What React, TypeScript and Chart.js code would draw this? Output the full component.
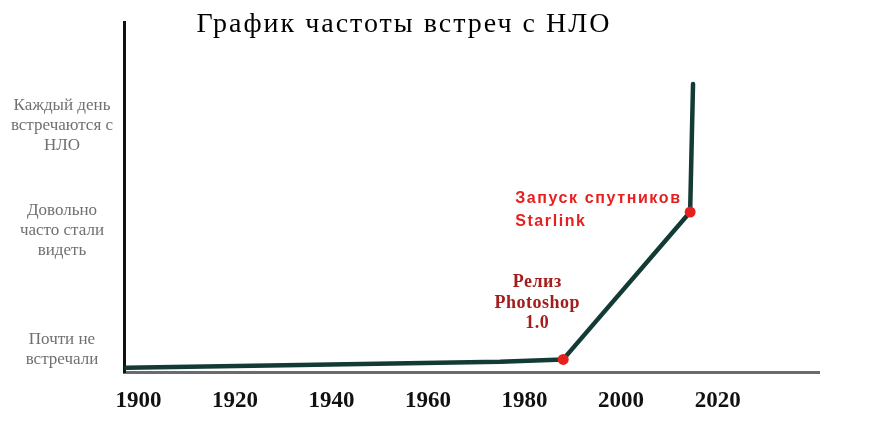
import React, { useEffect, useRef } from 'react';
import { Chart, registerables } from 'chart.js';

Chart.register(...registerables);

const TITLE = 'График частоты встреч с НЛО';
const YEARS = [1897.5, 1933.5, 1974.9, 1988, 2014.3, 2014.9];
const FREQUENCY = [1.2, 2.0, 2.9, 3.6, 45.7, 82.3];
const X_TICKS = [1900, 1920, 1940, 1960, 1980, 2000, 2020];
const Y_TICK_VALUES = [6.3, 40.3, 70.3];
const Y_TICK_LABELS = [
  ['Почти не', 'встречали'],
  ['Довольно', 'часто стали', 'видеть'],
  ['Каждый день', 'встречаются с', 'НЛО'],
];
const EVENT_INDEX = [3, 4];
const EVENT_LABELS = [
  ['Релиз', 'Photoshop', '1.0'],
  ['Запуск спутников', 'Starlink'],
];

const EVENT_STYLES = [
  { font: 'bold 18px "Liberation Serif"', color: '#a31d1d', align: 'center', dx: -26, dy: -77, lh: 20.5, spacing: '0.5px' },
  { font: 'bold 16px "Liberation Sans"', color: '#e5201e', align: 'left', dx: -175, dy: -13, lh: 23, spacing: '1.6px' },
];

const titlePlugin = {
  id: 'customTitle',
  afterDraw(chart: any) {
    const ctx = chart.ctx;
    ctx.save();
    ctx.font = '28px "Liberation Serif"';
    (ctx as any).letterSpacing = '2px';
    ctx.fillStyle = '#000';
    ctx.textAlign = 'center';
    ctx.textBaseline = 'alphabetic';
    ctx.fillText(TITLE, chart.chartArea.left + 280, 32);
    ctx.restore();
  },
};

const eventPlugin = {
  id: 'eventLabels',
  afterDatasetsDraw(chart: any) {
    const meta = chart.getDatasetMeta(0);
    const ctx = chart.ctx;
    ctx.save();
    EVENT_INDEX.forEach((idx, i) => {
      const pt = meta.data[idx];
      const s = EVENT_STYLES[i];
      ctx.font = s.font;
      (ctx as any).letterSpacing = s.spacing;
      ctx.fillStyle = s.color;
      ctx.textAlign = s.align;
      ctx.textBaseline = 'middle';
      EVENT_LABELS[i].forEach((line, j) => {
        ctx.fillText(line, pt.x + s.dx, pt.y + s.dy + j * s.lh);
      });
    });
    ctx.restore();
  },
};

export default function App() {
  const ref = useRef<HTMLCanvasElement>(null);
  useEffect(() => {
    document.body.style.margin = '0';
    const chart = new Chart(ref.current!, {
      type: 'line',
      data: {
        datasets: [
          {
            data: YEARS.map((x, i) => ({ x, y: FREQUENCY[i] })),
            borderColor: '#123b35',
            borderWidth: 4.5,
            borderCapStyle: 'round',
            borderJoinStyle: 'round',
            tension: 0,
            pointRadius: YEARS.map((_, i) => (EVENT_INDEX.includes(i) ? 5.5 : 0)),
            pointBackgroundColor: '#e5201e',
            pointBorderWidth: 0,
            pointHoverRadius: 0,
          },
        ],
      },
      options: {
        animation: false,
        responsive: false,
        events: [],
        layout: { padding: { top: 22, right: 77, left: 0, bottom: 0 } },
        plugins: { legend: { display: false }, tooltip: { enabled: false }, title: { display: false } },
        scales: {
          x: {
            type: 'linear',
            min: 1897,
            max: 2041,
            grid: { display: false, drawTicks: false },
            border: { display: true, color: '#6b6b6b', width: 3 },
            afterBuildTicks: (scale: any) => {
              scale.ticks = X_TICKS.map((v) => ({ value: v }));
            },
            afterFit: (scale: any) => {
              scale.height = 75;
              scale.paddingLeft = 0;
              scale.paddingRight = 0;
            },
            ticks: {
              color: '#111',
              font: { family: '"Liberation Serif"', size: 23, weight: 'bold' },
              padding: 15,
              maxRotation: 0,
              autoSkip: false,
              callback: (v: any) => String(v),
            },
          },
          y: {
            type: 'linear',
            min: 0,
            max: 100,
            grid: { display: false, drawTicks: false },
            border: { display: true, color: '#111', width: 3 },
            afterBuildTicks: (scale: any) => {
              scale.ticks = Y_TICK_VALUES.map((v) => ({ value: v }));
            },
            afterFit: (scale: any) => {
              scale.width = 124;
              scale.paddingTop = 0;
              scale.paddingBottom = 0;
            },
            ticks: {
              color: '#707070',
              font: { family: '"Liberation Serif"', size: 17, lineHeight: 1.18 },
              padding: 11,
              crossAlign: 'center',
              autoSkip: false,
              callback: (v: any, i: number) => Y_TICK_LABELS[i],
            },
          },
        },
      },
      plugins: [titlePlugin, eventPlugin],
    } as any);
    return () => chart.destroy();
  }, []);
  return (
    <div style={{ position: 'absolute', left: 0, top: 0, width: 896, height: 447 }}>
      <canvas ref={ref} width={896} height={447} />
    </div>
  );
}
